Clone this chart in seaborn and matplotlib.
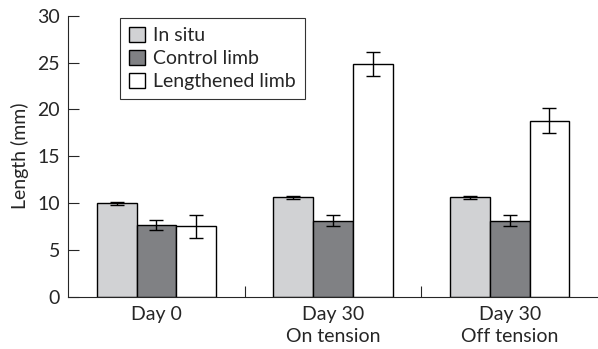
import pandas as pd
import matplotlib
matplotlib.use("Agg")
import matplotlib.pyplot as plt
import seaborn as sns

groups = ["Day 0", "Day 30\nOn tension", "Day 30\nOff tension"]
series = ["In situ", "Control limb", "Lengthened limb"]
in_situ = [9.95, 10.6, 10.6]
in_situ_err = [0.2, 0.15, 0.15]
control = [7.65, 8.1, 8.1]
control_err = [0.57, 0.6, 0.6]
lengthened = [7.5, 24.85, 18.8]
lengthened_err = [1.27, 1.3, 1.3]
colors = ["#d1d2d4", "#808184", "#ffffff"]

rows = []
for name, vals, errs in [(series[0], in_situ, in_situ_err),
                         (series[1], control, control_err),
                         (series[2], lengthened, lengthened_err)]:
    for g, v, e in zip(groups, vals, errs):
        rows.append({"group": g, "series": name, "value": v, "err": e})
df = pd.DataFrame(rows)

sns.set_style("ticks")
plt.rcParams["font.family"] = ["Lato", "DejaVu Sans"]
fs = 14

fig, ax = plt.subplots(figsize=(5.98, 3.49), dpi=100)
sns.barplot(data=df, x="group", y="value", hue="series", palette=colors,
            errorbar=None, width=0.675, edgecolor="black", linewidth=1.0,
            saturation=1, ax=ax)

# error bars from the drawn bars
for cont, name in zip(ax.containers, series):
    sub = df[df["series"] == name]
    xs = [p.get_x() + p.get_width() / 2 for p in cont.patches]
    ax.errorbar(xs, sub["value"].values, yerr=sub["err"].values, fmt="none",
                ecolor="black", elinewidth=1.0, capsize=5, capthick=1.0)

ax.set_xlim(-0.5, 2.5)
ax.set_ylim(0, 30)
ax.set_yticks(range(0, 31, 5))
ax.set_xlabel("")
ax.set_ylabel("Length (mm)", fontsize=fs, labelpad=6)
ax.tick_params(axis="y", direction="in", length=8, labelsize=fs, width=0.8, pad=6)
ax.tick_params(axis="x", which="major", length=0, labelsize=fs, pad=7)
for lbl in ax.get_xticklabels():
    lbl.set_linespacing(1.35)
ax.set_xticks([0.5, 1.5], minor=True)
ax.tick_params(axis="x", which="minor", direction="in", length=8, width=0.8)
sns.despine(ax=ax)

leg = ax.legend(loc="upper left", bbox_to_anchor=(0.08, 1.025), fontsize=fs,
                frameon=True, fancybox=False, edgecolor="black",
                handlelength=0.8, handleheight=0.8, handletextpad=0.45,
                borderpad=0.45, labelspacing=0.3)
leg.get_frame().set_linewidth(0.8)

fig.subplots_adjust(left=0.114, right=1.0, top=0.955, bottom=0.15)
fig.savefig("out.png", dpi=100)
